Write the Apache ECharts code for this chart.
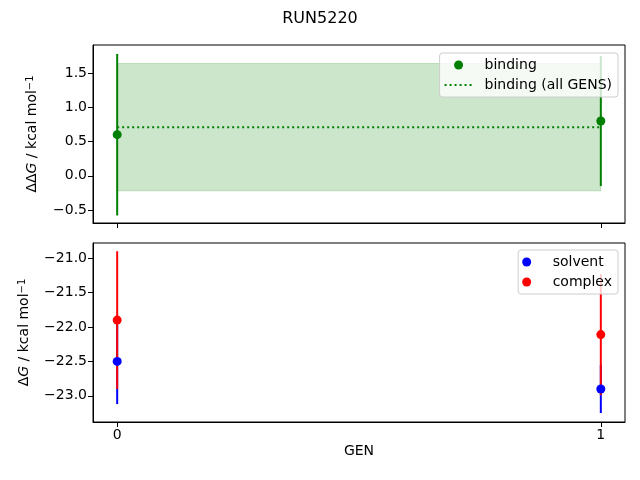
<!DOCTYPE html>
<html>
<head>
    <meta charset="utf-8">
    <script src="https://cdn.jsdelivr.net/npm/echarts@6/dist/echarts.min.js"></script>
</head>
<body style="margin: 0">
<div id="container" style="width: 640px; height: 480px;"></div>
<script>

// data
var gens = [0, 1];
var binding = [0.60, 0.80];
var bindingErr = [1.18, 0.95];
var bindingAll = 0.71;       // mean over all GENS
var bindingAllErr = 0.93;
var solvent = [-22.50, -22.90];
var solventErr = [0.62, 0.35];
var complexDG = [-21.90, -22.11];
var complexErr = [1.00, 0.88];

var topTicks = [-0.5, 0, 0.5, 1.0, 1.5];
var bottomTicks = [-23.0, -22.5, -22.0, -21.5, -21.0];

var dom = document.getElementById("container");
var myChart = echarts.init(dom);

var font = 'DejaVu Sans';

function fmt(v) {
    return v.toFixed(1).replace('-', '\u2212');
}

// vertical error bar from [x, lo, hi]
function errBar(color) {
    return function (params, api) {
        var p1 = api.coord([api.value(0), api.value(1)]);
        var p2 = api.coord([api.value(0), api.value(2)]);
        return {
            type: 'line',
            shape: {x1: p1[0], y1: p1[1], x2: p2[0], y2: p2[1]},
            style: {stroke: color, lineWidth: 2}
        };
    };
}

function errData(vals, errs) {
    return gens.map(function (g, i) {
        return [g, vals[i] - errs[i], vals[i] + errs[i]];
    });
}

function pts(vals) {
    return gens.map(function (g, i) { return [g, vals[i]]; });
}

var yName = {
    i: {fontStyle: 'italic', fontFamily: font, fontSize: 14, color: '#000'},
    s: {fontFamily: font, fontSize: 10, color: '#000', verticalAlign: 'top', lineHeight: 10, padding: [0, 0, 6, 0]}
};

var legendBox = {
    orient: 'vertical',
    backgroundColor: 'rgba(255,255,255,0.8)',
    borderColor: '#cccccc',
    borderWidth: 1,
    borderRadius: 3,
    padding: [5, 6, 5, 4],
    itemGap: 6,
    itemWidth: 28,
    itemHeight: 9,
    textStyle: {fontFamily: font, fontSize: 14, color: '#000', padding: [0, 0, 0, 7]}
};

var axisLine = {show: true, onZero: false, lineStyle: {color: '#000', width: 1}};

var option = {
    animation: false,
    title: {
        text: 'RUN5220',
        left: 'center',
        top: 6,
        textStyle: {fontFamily: font, fontSize: 16, fontWeight: 'normal', color: '#000'}
    },
    grid: [
        {left: 93, right: 15, top: 45, height: 178, show: true, borderColor: '#000', borderWidth: 1},
        {left: 93, right: 15, top: 243, height: 179, show: true, borderColor: '#000', borderWidth: 1}
    ],
    legend: [
        Object.assign({}, legendBox, {
            right: 22, top: 53,
            data: [
                {name: 'binding', icon: 'circle'},
                {name: 'binding (all GENS)', itemStyle: {opacity: 0}}
            ]
        }),
        Object.assign({}, legendBox, {
            right: 22, top: 250,
            data: [
                {name: 'solvent', icon: 'circle'},
                {name: 'complex', icon: 'circle'}
            ]
        })
    ],
    xAxis: [
        {
            type: 'value', gridIndex: 0, min: -0.05, max: 1.05,
            splitLine: {show: false},
            axisLine: axisLine,
            axisTick: {show: true, length: 5, customValues: gens, lineStyle: {color: '#000'}},
            axisLabel: {show: false}
        },
        {
            type: 'value', gridIndex: 1, min: -0.05, max: 1.05,
            name: 'GEN', nameLocation: 'middle', nameGap: 22,
            nameTextStyle: {fontFamily: font, fontSize: 14, color: '#000'},
            splitLine: {show: false},
            axisLine: axisLine,
            axisTick: {show: true, length: 5, customValues: gens, lineStyle: {color: '#000'}},
            axisLabel: {customValues: gens, fontFamily: font, fontSize: 14, color: '#000', margin: 6}
        }
    ],
    yAxis: [
        {
            type: 'value', gridIndex: 0, min: -0.69, max: 1.91,
            name: 'ΔΔ{i|G} / kcal mol{s|−1}', nameLocation: 'middle', nameGap: 54,
            nameTextStyle: {fontFamily: font, fontSize: 14, color: '#000', rich: yName},
            splitLine: {show: false},
            axisLine: axisLine,
            axisTick: {show: true, length: 5, customValues: topTicks, lineStyle: {color: '#000'}},
            axisLabel: {customValues: topTicks, formatter: fmt, fontFamily: font, fontSize: 14, color: '#000', margin: 6}
        },
        {
            type: 'value', gridIndex: 1, min: -23.38, max: -20.78,
            name: 'Δ{i|G} / kcal mol{s|−1}', nameLocation: 'middle', nameGap: 62,
            nameTextStyle: {fontFamily: font, fontSize: 14, color: '#000', rich: yName},
            splitLine: {show: false},
            axisLine: axisLine,
            axisTick: {show: true, length: 5, customValues: bottomTicks, lineStyle: {color: '#000'}},
            axisLabel: {customValues: bottomTicks, formatter: fmt, fontFamily: font, fontSize: 14, color: '#000', margin: 6}
        }
    ],
    series: [
        {
            name: 'all GENS band', type: 'custom', xAxisIndex: 0, yAxisIndex: 0,
            data: [[gens[0], gens[gens.length - 1], bindingAll - bindingAllErr, bindingAll + bindingAllErr]],
            renderItem: function (params, api) {
                var p1 = api.coord([api.value(0), api.value(3)]);
                var p2 = api.coord([api.value(1), api.value(2)]);
                return {
                    type: 'rect',
                    shape: {x: p1[0], y: p1[1], width: p2[0] - p1[0], height: p2[1] - p1[1]},
                    style: {fill: 'rgba(0,128,0,0.2)', stroke: 'rgba(0,128,0,0.2)', lineWidth: 1}
                };
            },
            z: 1
        },
        {
            name: 'binding (all GENS)', type: 'line', xAxisIndex: 0, yAxisIndex: 0,
            data: [[gens[0], bindingAll], [gens[gens.length - 1], bindingAll]],
            symbol: 'none',
            color: '#008000',
            lineStyle: {color: '#008000', width: 2, type: [2, 3]},
            z: 2
        },
        {
            name: 'binding err', type: 'custom', xAxisIndex: 0, yAxisIndex: 0,
            data: errData(binding, bindingErr), renderItem: errBar('#008000'), z: 3
        },
        {
            name: 'binding', type: 'scatter', xAxisIndex: 0, yAxisIndex: 0,
            data: pts(binding), symbolSize: 9, itemStyle: {color: '#008000', opacity: 1}, z: 4
        },
        {
            name: 'solvent err', type: 'custom', xAxisIndex: 1, yAxisIndex: 1,
            data: errData(solvent, solventErr), renderItem: errBar('#0000ff'), z: 3
        },
        {
            name: 'complex err', type: 'custom', xAxisIndex: 1, yAxisIndex: 1,
            data: errData(complexDG, complexErr), renderItem: errBar('#ff0000'), z: 3
        },
        {
            name: 'solvent', type: 'scatter', xAxisIndex: 1, yAxisIndex: 1,
            data: pts(solvent), symbolSize: 9, itemStyle: {color: '#0000ff', opacity: 1}, z: 4
        },
        {
            name: 'complex', type: 'scatter', xAxisIndex: 1, yAxisIndex: 1,
            data: pts(complexDG), symbolSize: 9, itemStyle: {color: '#ff0000', opacity: 1}, z: 4
        }
    ]
};

myChart.setOption(option);

</script>
</body>
</html>
